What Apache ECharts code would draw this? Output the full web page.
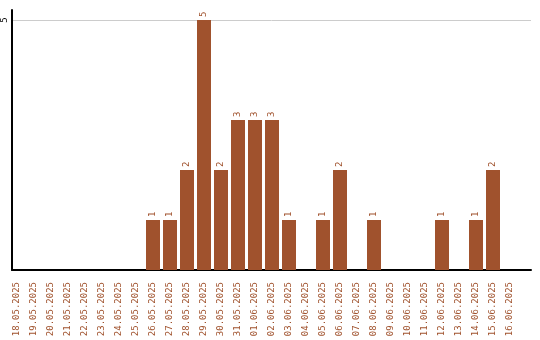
<!DOCTYPE html>
<html><head><meta charset="utf-8">
<script src="https://cdn.jsdelivr.net/npm/echarts@6/dist/echarts.min.js"></script>
<style>html,body{margin:0;padding:0;background:#fff}#c{width:540px;height:340px}</style>
</head><body><div id="c"></div>
<script>
const categories = ["18.05.2025","19.05.2025","20.05.2025","21.05.2025","22.05.2025","23.05.2025","24.05.2025","25.05.2025","26.05.2025","27.05.2025","28.05.2025","29.05.2025","30.05.2025","31.05.2025","01.06.2025","02.06.2025","03.06.2025","04.06.2025","05.06.2025","06.06.2025","07.06.2025","08.06.2025","09.06.2025","10.06.2025","11.06.2025","12.06.2025","13.06.2025","14.06.2025","15.06.2025","16.06.2025"];
const counts = [0,0,0,0,0,0,0,0,1,1,2,5,2,3,3,3,1,0,1,2,0,1,0,0,0,1,0,1,2,0];
const yMax = 5.2;
const yInterval = 5;

const color = '#A0522D';
const font = 'DejaVu Sans Mono';
const chart = echarts.init(document.getElementById('c'), null, {renderer:'canvas'});
chart.setOption({
  animation:false,
  grid:[
    {left:10, right:9, top:10, bottom:70},
    {left:8.5, right:21.5, top:10, bottom:70}
  ],
  xAxis:[
    {gridIndex:0, type:'category', data:categories, axisLine:{lineStyle:{color:'#000', width:2}}, axisTick:{show:false}, axisLabel:{show:false}, splitLine:{show:false}},
    {gridIndex:1, type:'category', data:categories, axisLine:{show:false}, axisTick:{show:false},
      axisLabel:{rotate:90, interval:0, color:color, fontFamily:font, fontSize:9, margin:12}}
  ],
  yAxis:[
    {gridIndex:0, type:'value', min:0, max:yMax, interval:yInterval,
      axisLine:{show:true, lineStyle:{color:'#000', width:2}}, axisTick:{show:false},
      splitLine:{showMaxLine:false, showMinLine:false, lineStyle:{color:'#ccc', width:1}},
      axisLabel:{rotate:90, showMinLabel:false, showMaxLabel:false, color:'#000', fontFamily:font, fontSize:9, margin:3,
        formatter:v=>(v===yInterval?String(v):'')}},
    {gridIndex:1, type:'value', min:0, max:yMax, interval:yInterval, show:false}
  ],
  series:[{
    type:'bar', xAxisIndex:1, yAxisIndex:1, data:counts, barWidth:14,
    itemStyle:{color:color},
    label:{show:true, position:'top', rotate:90, align:'left', verticalAlign:'middle', distance:3,
      color:color, fontFamily:font, fontSize:9, formatter:p=>p.value?String(p.value):''}
  }]
});
</script></body></html>
